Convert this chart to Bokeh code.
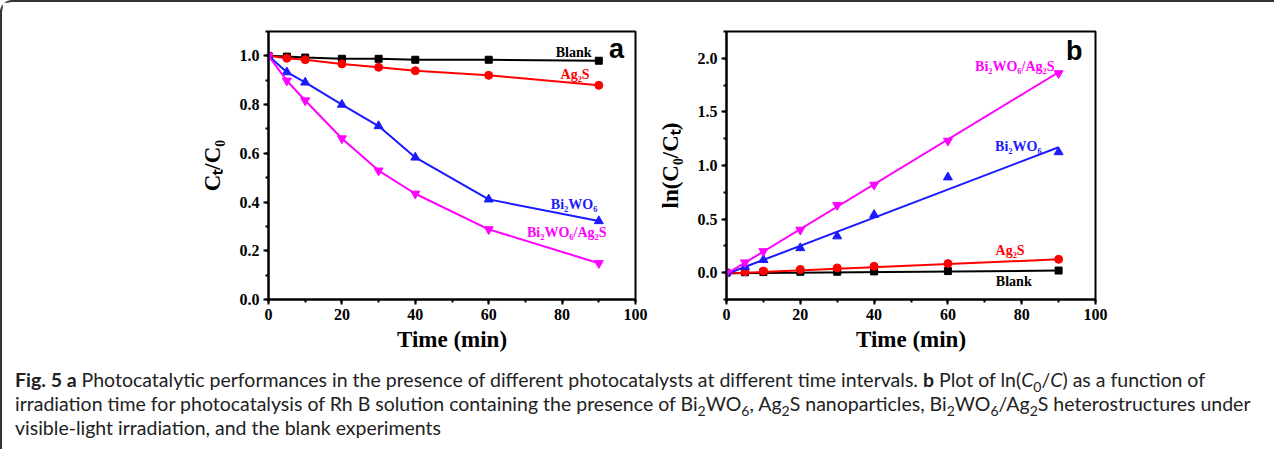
from bokeh.plotting import figure
from bokeh.layouts import row, column
from bokeh.models import Div, Range1d, FixedTicker
from bokeh.core.properties import value
from bokeh.embed import file_html
from bokeh.resources import INLINE

# ---- data ----
t = [0, 5, 10, 20, 30, 40, 60, 90]
# panel a: Ct/C0
a_blank = [1.0, 0.997, 0.993, 0.988, 0.988, 0.984, 0.984, 0.980]
a_ag2s = [1.0, 0.990, 0.984, 0.967, 0.953, 0.939, 0.920, 0.879]
a_bwo = [1.0, 0.933, 0.891, 0.800, 0.712, 0.583, 0.411, 0.322]
a_comp = [1.0, 0.898, 0.817, 0.661, 0.529, 0.434, 0.288, 0.149]
# panel b: ln(C0/Ct)
b_blank = [0.0, 0.004, 0.006, 0.008, 0.009, 0.012, 0.015, 0.020]
b_ag2s = [0.0, 0.010, 0.015, 0.030, 0.045, 0.060, 0.085, 0.125]
b_bwo = [0.0, 0.055, 0.120, 0.230, 0.340, 0.540, 0.890, 1.125]
b_comp = [0.0, 0.095, 0.200, 0.400, 0.630, 0.820, 1.230, 1.860]
# linear fit lines (read endpoints)
fit_t = [0, 90]
fit_blank = [-0.005, 0.020]
fit_ag2s = [-0.008, 0.125]
fit_bwo = [-0.012, 1.170]
fit_comp = [-0.012, 1.870]

x_ticks = [0, 20, 40, 60, 80, 100]
a_yticks = [0.0, 0.2, 0.4, 0.6, 0.8, 1.0]
b_yticks = [0.0, 0.5, 1.0, 1.5, 2.0]

BLACK, RED, BLUE, MAG = "#000000", "#ff0000", "#1a1aff", "#ff00ff"
SERIF = "Liberation Serif"


def style(p, yticks, yminor):
    p.outline_line_color = "black"
    p.outline_line_width = 2
    p.xgrid.visible = False
    p.ygrid.visible = False
    p.background_fill_color = "white"
    p.border_fill_color = "white"
    for ax in (p.xaxis[0], p.yaxis[0]):
        ax.axis_line_width = 2
        ax.major_tick_line_width = 2
        ax.minor_tick_line_width = 2
        ax.major_tick_in = 0
        ax.major_tick_out = 5
        ax.minor_tick_in = 0
        ax.minor_tick_out = 3
        ax.major_label_text_font = SERIF
        ax.major_label_text_font_style = "bold"
        ax.major_label_text_font_size = "16px"
        ax.major_label_text_color = "black"
        ax.axis_label_text_font = SERIF
        ax.axis_label_text_font_style = "bold"
        ax.axis_label_text_font_size = "23px"
        ax.axis_label_text_color = "black"
    p.xaxis[0].ticker = FixedTicker(ticks=x_ticks, minor_ticks=list(range(0, 101, 10)))
    p.yaxis[0].ticker = FixedTicker(ticks=yticks, minor_ticks=yminor)
    p.xaxis[0].major_label_standoff = 4
    p.xaxis[0].axis_label_standoff = 4
    p.yaxis[0].major_label_standoff = 4
    p.yaxis[0].axis_label_standoff = 12
    p.xaxis[0].major_label_overrides = {v: str(v) for v in x_ticks}


# ---- panel a ----
pa = figure(width=649, height=353, output_backend="svg", toolbar_location=None,
            x_range=Range1d(0, 100), y_range=Range1d(0, 1.1),
            min_border_left=266, min_border_right=16, min_border_top=29, min_border_bottom=55,
            x_axis_label="Time (min)", y_axis_label="Cₜ/C₀")
style(pa, a_yticks, [i / 10 for i in range(0, 12)])
pa.yaxis[0].major_label_overrides = {v: f"{v:.1f}" for v in a_yticks}

for ys, col, mk, sz in [(a_blank, BLACK, "square", 7), (a_ag2s, RED, "circle", 8),
                        (a_bwo, BLUE, "triangle", 9), (a_comp, MAG, "inverted_triangle", 9)]:
    pa.line(t, ys, line_color=col, line_width=2)
    pa.scatter(t, ys, marker=mk, size=sz, color=col)

lab_kw = dict(text_font=value(SERIF), text_font_style="bold", text_font_size="14px",
              text_align="right", text_baseline="middle")
pa.text(x=[88.0], y=[1.012], text=["Blank"], text_color=BLACK, **lab_kw)
pa.text(x=[87.5], y=[0.924], text=["Ag₂S"], text_color=RED, **lab_kw)
pa.text(x=[89.6], y=[0.391], text=["Bi₂WO₆"], text_color=BLUE, **lab_kw)
pa.text(x=[92.1], y=[0.273], text=["Bi₂WO₆/Ag₂S"], text_color=MAG, **lab_kw)
pa.text(x=[92.8], y=[1.03], text=["a"], text_color="black", text_font=value("Liberation Sans"),
        text_font_style="bold", text_font_size="27px", text_align="left", text_baseline="middle")

# ---- panel b ----
pb = figure(width=464, height=353, output_backend="svg", toolbar_location=None,
            x_range=Range1d(0, 100), y_range=Range1d(-0.25, 2.25),
            min_border_left=75, min_border_right=20, min_border_top=25, min_border_bottom=56,
            x_axis_label="Time (min)", y_axis_label="ln(C₀/Cₜ)")
style(pb, b_yticks, [i * 0.25 for i in range(-1, 10)])
pb.yaxis[0].major_label_overrides = {v: f"{v:.1f}" for v in b_yticks}

for ys, fy, col, mk, sz in [(b_blank, fit_blank, BLACK, "square", 7), (b_ag2s, fit_ag2s, RED, "circle", 8),
                            (b_bwo, fit_bwo, BLUE, "triangle", 9), (b_comp, fit_comp, MAG, "inverted_triangle", 9)]:
    pb.line(fit_t, fy, line_color=col, line_width=2)
    pb.scatter(t, ys, marker=mk, size=sz, color=col)

pb.text(x=[88.9], y=[1.924], text=["Bi₂WO₆/Ag₂S"], text_color=MAG, **lab_kw)
pb.text(x=[85.4], y=[1.18], text=["Bi₂WO₆"], text_color=BLUE, **lab_kw)
pb.text(x=[80.8], y=[0.208], text=["Ag₂S"], text_color=RED, **lab_kw)
pb.text(x=[82.7], y=[-0.085], text=["Blank"], text_color=BLACK, **lab_kw)
pb.text(x=[92.0], y=[2.07], text=["b"], text_color="black", text_font=value("Liberation Sans"),
        text_font_style="bold", text_font_size="27px", text_align="left", text_baseline="middle")

SUB = '<span style="font-size:0.72em;position:relative;top:0.35em;line-height:0">'
caption_html = (
    '<div style="font-family:\'Lato\';font-size:19.5px;line-height:24px;color:#222;'
    'white-space:nowrap;padding-left:8px;padding-top:8px;">'
    '<b>Fig. 5 a</b> Photocatalytic performances in the presence of different photocatalysts at different time intervals. '
    '<b>b</b> Plot of ln(<i>C</i>' + SUB + '0</span>/<i>C</i>) as a function of<br>'
    'irradiation time for photocatalysis of Rh B solution containing the presence of Bi' + SUB + '2</span>WO'
    + SUB + '6</span>, Ag' + SUB + '2</span>S nanoparticles, Bi' + SUB + '2</span>WO' + SUB + '6</span>/Ag'
    + SUB + '2</span>S heterostructures under<br>'
    'visible-light irradiation, and the blank experiments</div>'
)
cap = Div(text=caption_html, width=1262, height=84)

layout = column(row(pa, pb), cap,
                styles={"border-top": "2px solid #333", "border-left": "2px solid #333",
                        "border-top-left-radius": "12px", "background": "white"})

open("out.html", "w").write(file_html(layout, INLINE))
